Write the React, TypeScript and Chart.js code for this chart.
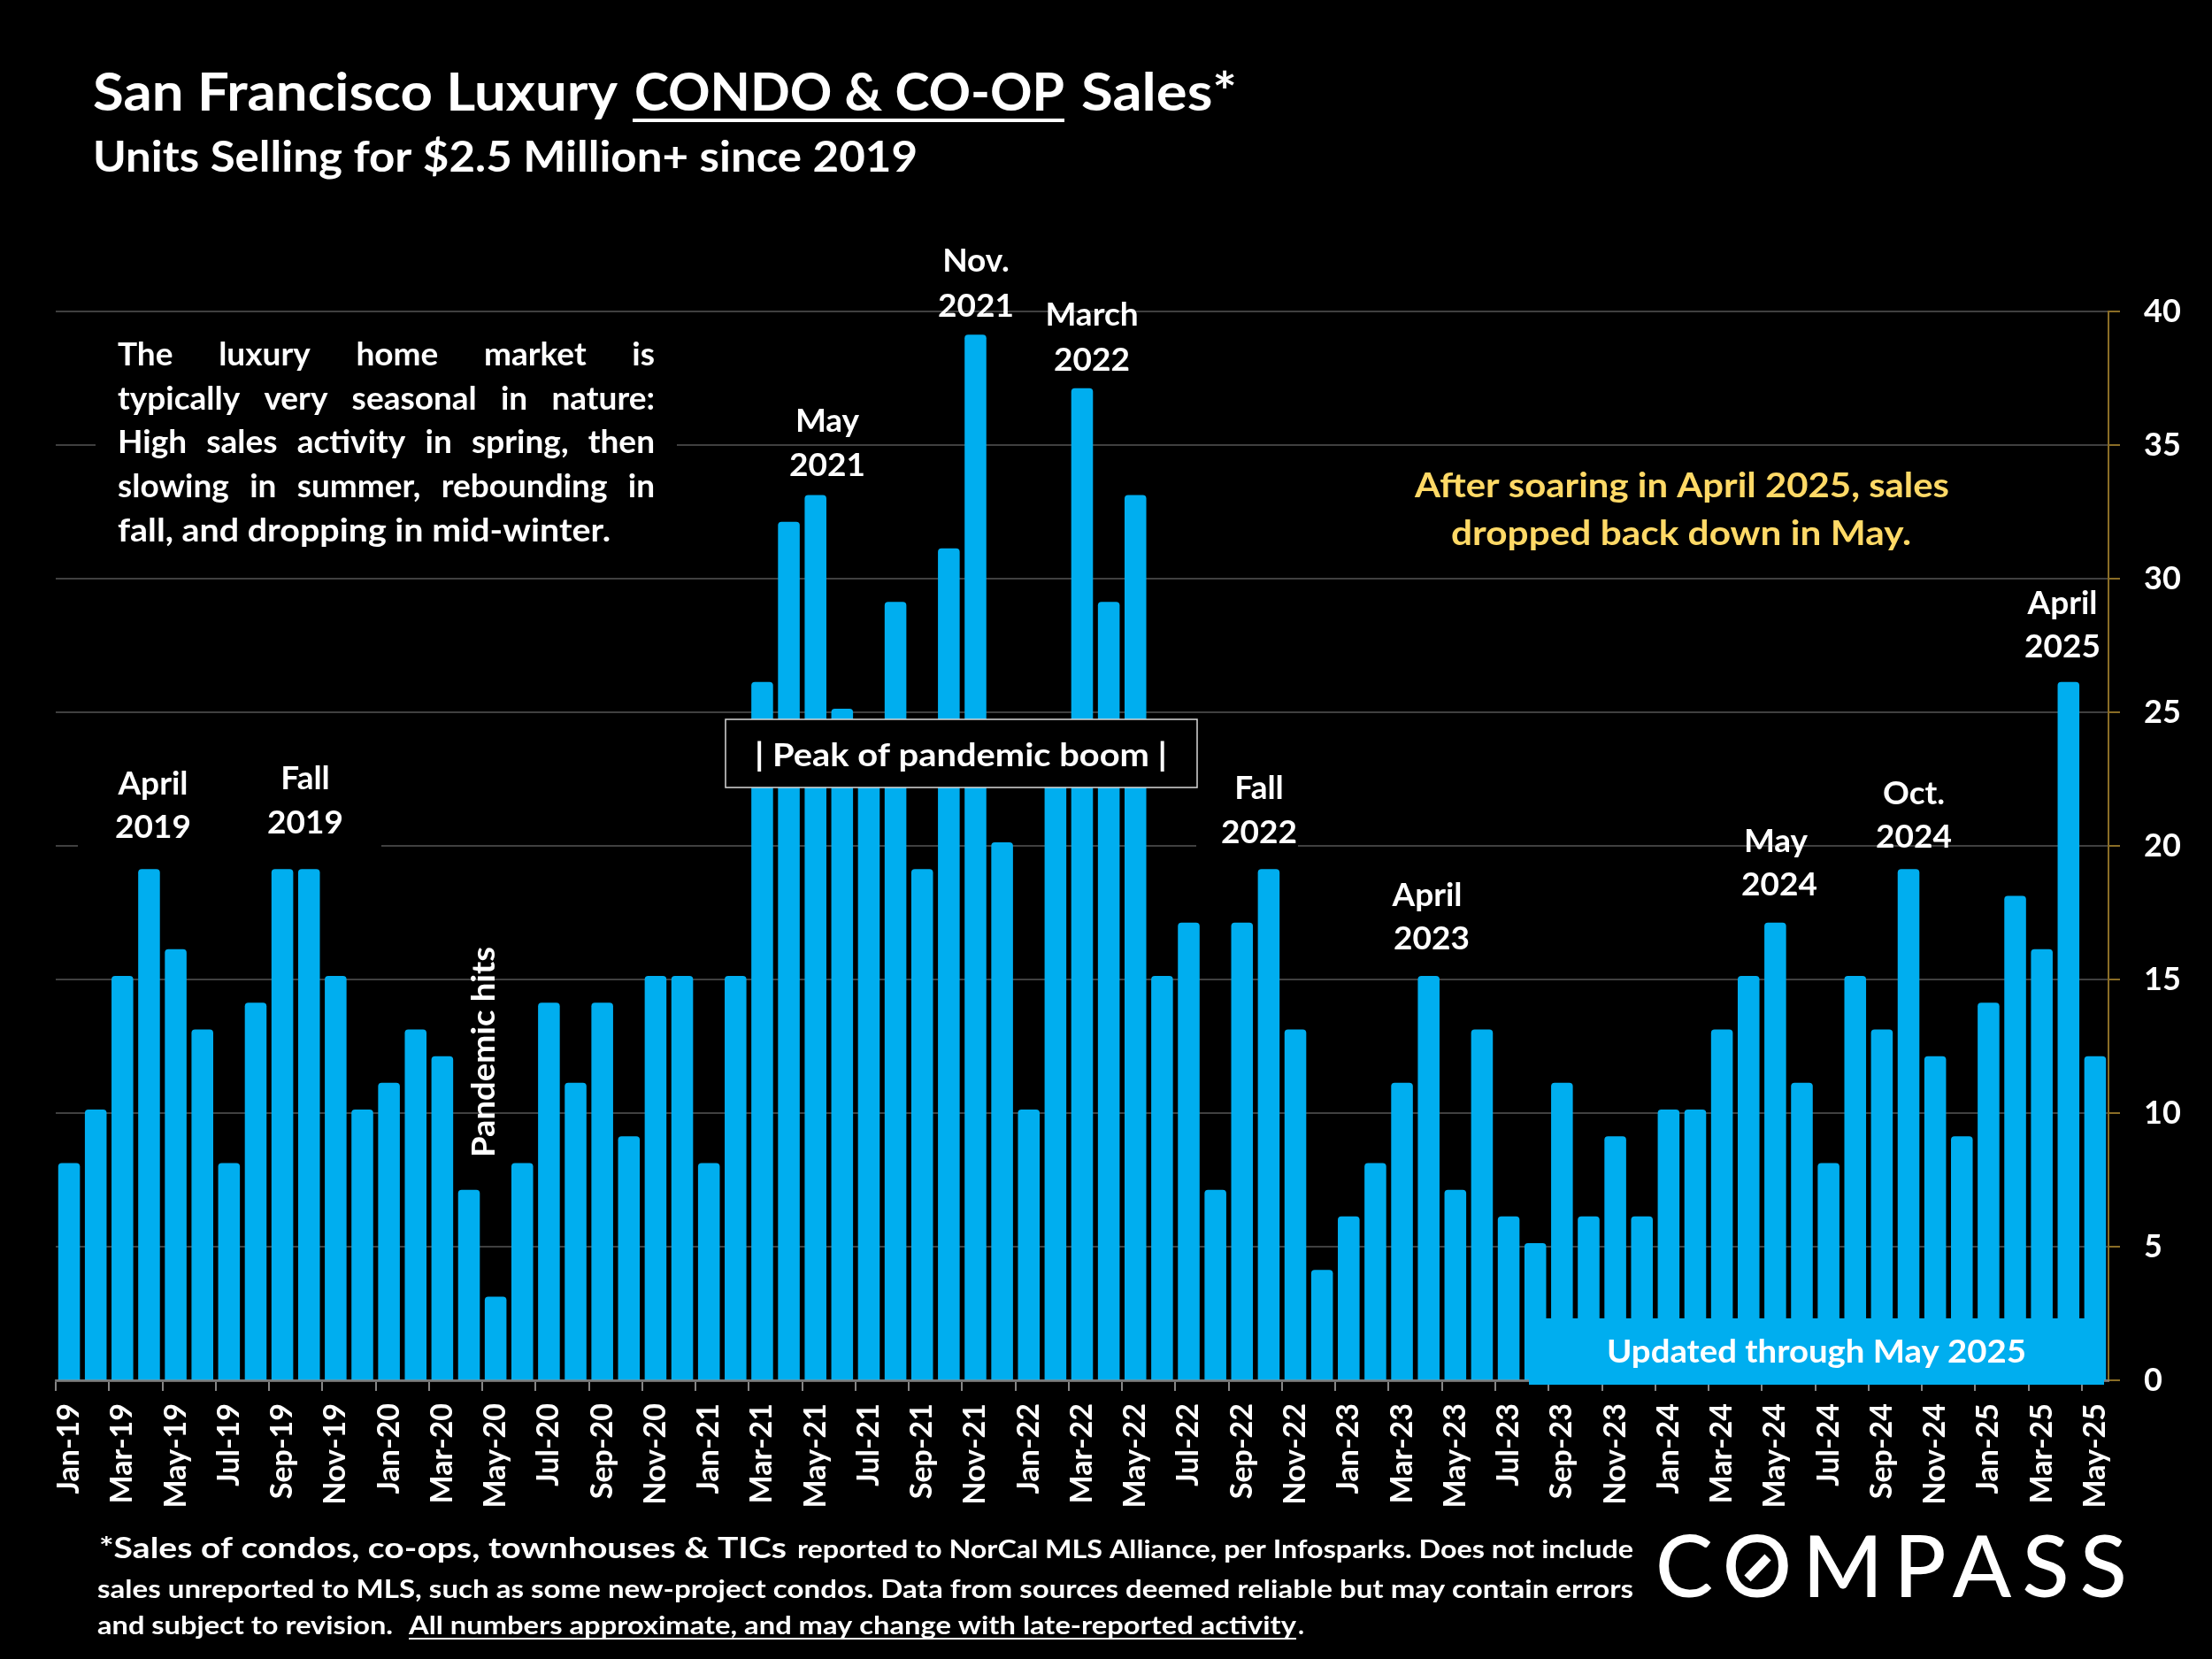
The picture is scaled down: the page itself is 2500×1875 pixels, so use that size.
import React, { useEffect, useRef } from 'react';
import Chart from 'chart.js/auto';

const months = [
  'Jan-19', 'Feb-19', 'Mar-19', 'Apr-19', 'May-19', 'Jun-19', 'Jul-19', 'Aug-19', 'Sep-19', 'Oct-19', 'Nov-19', 'Dec-19',
  'Jan-20', 'Feb-20', 'Mar-20', 'Apr-20', 'May-20', 'Jun-20', 'Jul-20', 'Aug-20', 'Sep-20', 'Oct-20', 'Nov-20', 'Dec-20',
  'Jan-21', 'Feb-21', 'Mar-21', 'Apr-21', 'May-21', 'Jun-21', 'Jul-21', 'Aug-21', 'Sep-21', 'Oct-21', 'Nov-21', 'Dec-21',
  'Jan-22', 'Feb-22', 'Mar-22', 'Apr-22', 'May-22', 'Jun-22', 'Jul-22', 'Aug-22', 'Sep-22', 'Oct-22', 'Nov-22', 'Dec-22',
  'Jan-23', 'Feb-23', 'Mar-23', 'Apr-23', 'May-23', 'Jun-23', 'Jul-23', 'Aug-23', 'Sep-23', 'Oct-23', 'Nov-23', 'Dec-23',
  'Jan-24', 'Feb-24', 'Mar-24', 'Apr-24', 'May-24', 'Jun-24', 'Jul-24', 'Aug-24', 'Sep-24', 'Oct-24', 'Nov-24', 'Dec-24',
  'Jan-25', 'Feb-25', 'Mar-25', 'Apr-25', 'May-25',
];

const unitsSold = [
  8, 10, 15, 19, 16, 13, 8, 14, 19, 19, 15, 10,
  11, 13, 12, 7, 3, 8, 14, 11, 14, 9, 15, 15,
  8, 15, 26, 32, 33, 25, 24, 29, 19, 31, 39, 20,
  10, 23, 37, 29, 33, 15, 17, 7, 17, 19, 13, 4,
  6, 8, 11, 15, 7, 13, 6, 5, 11, 6, 9, 6,
  10, 10, 13, 15, 17, 11, 8, 15, 13, 19, 12, 9,
  14, 18, 16, 26, 12,
];

const introLines = [
  'The luxury home market is',
  'typically very seasonal in nature:',
  'High sales activity in spring, then',
  'slowing in summer, rebounding in',
];
const introLast = 'fall, and dropping in mid-winter.';

const BLUE = '#00AEEF';
const WHITE = '#FFFFFF';
const GOLD = '#FFD966';
const AXIS_GOLD = '#8A6D26';

// the bars stand about 4px proud of the gridlines in the original
const BAR_LIFT = 0.13;

const annotations = {
  id: 'annotations',
  beforeDraw(chart: Chart) {
    const { ctx, width, height } = chart;
    ctx.save();
    ctx.fillStyle = '#000';
    ctx.fillRect(0, 0, width, height);
    ctx.restore();
  },
  afterDraw(chart: Chart) {
    const ctx = chart.ctx;
    ctx.save();
    ctx.textBaseline = 'alphabetic';
    ctx.textAlign = 'left';

    const LABEL = 'bold 37px Lato';

    // squeeze or stretch a run of text so it spans x0..x1 like the Calibri original
    const fit = (text: string, x0: number, x1: number, y: number, font: string, color = WHITE) => {
      ctx.font = font;
      ctx.fillStyle = color;
      const w = ctx.measureText(text).width;
      ctx.save();
      ctx.translate(x0, y);
      ctx.scale((x1 - x0) / w, 1);
      ctx.fillText(text, 0, 0);
      ctx.restore();
    };
    const centered = (text: string, cx: number, y: number) => {
      ctx.font = LABEL;
      ctx.fillStyle = WHITE;
      ctx.textAlign = 'center';
      ctx.fillText(text, cx, y);
      ctx.textAlign = 'left';
    };
    const justified = (text: string, x0: number, x1: number, y: number) => {
      ctx.font = LABEL;
      ctx.fillStyle = WHITE;
      const words = text.split(' ');
      const sizes = words.map((w) => ctx.measureText(w).width);
      const gap = (x1 - x0 - sizes.reduce((a, b) => a + b, 0)) / (words.length - 1);
      let x = x0;
      words.forEach((w, i) => {
        ctx.fillText(w, x, y);
        x += sizes[i] + gap;
      });
    };

    // gridline gaps behind the text blocks
    ctx.fillStyle = '#000';
    ctx.fillRect(108, 495, 657, 12);
    ctx.fillRect(88, 950, 343, 12);
    ctx.fillRect(1352, 950, 115, 12);

    // title
    const T = 'bold 60px Lato';
    fit('San Francisco Luxury', 105, 698, 125, T);
    fit('CONDO & CO-OP', 717, 1203, 125, T);
    fit('Sales*', 1222, 1398, 125, T);
    ctx.fillStyle = WHITE;
    ctx.fillRect(715, 134, 488, 4);
    fit('Units Selling for $2.5 Million+ since 2019', 105, 1037, 194, 'bold 48px Lato');

    // intro block
    introLines.forEach((line, i) => justified(line, 133, 740, 413 + i * 49.7));
    fit(introLast, 133, 690, 612, LABEL);

    // gold note
    fit('After soaring in April 2025, sales', 1599, 2203, 562, 'bold 39px Lato', GOLD);
    fit('dropped back down in May.', 1640, 2160, 616, 'bold 39px Lato', GOLD);

    // month callouts
    centered('April', 173, 898);
    centered('2019', 173, 947);
    centered('Fall', 345, 892);
    centered('2019', 345, 942);
    centered('May', 935, 488);
    centered('2021', 935, 538);
    centered('Nov.', 1103, 307);
    centered('2021', 1103, 358);
    centered('March', 1234, 368);
    centered('2022', 1234, 419);
    centered('Fall', 1423, 903);
    centered('2022', 1423, 953);
    centered('April', 1613, 1024);
    centered('2023', 1618, 1073);
    centered('May', 2007, 963);
    centered('2024', 2011, 1012);
    centered('Oct.', 2163, 909);
    centered('2024', 2163, 958);
    centered('April', 2331, 694);
    centered('2025', 2331, 743);

    // rotated note
    ctx.save();
    ctx.translate(559, 1308);
    ctx.rotate(-Math.PI / 2);
    fit('Pandemic hits', 0, 238, 0, LABEL);
    ctx.restore();

    // peak box
    ctx.fillStyle = '#000';
    ctx.fillRect(820, 813, 533, 77);
    ctx.strokeStyle = '#D9D9D9';
    ctx.lineWidth = 1.5;
    ctx.strokeRect(820, 813, 533, 77);
    fit('| Peak of pandemic boom |', 853, 1319, 866, LABEL);

    // updated banner
    ctx.fillStyle = BLUE;
    ctx.fillRect(1728, 1490, 650, 75);
    fit('Updated through May 2025', 1816, 2290, 1540, LABEL);

    // footnote
    const FB = 'bold 33px Lato';
    const FS = 'bold 29px Lato';
    fit('*Sales of condos, co-ops, townhouses & TICs', 112, 889, 1761, FB);
    fit('reported to NorCal MLS Alliance, per Infosparks. Does not include', 901, 1846, 1761, FS);
    fit('sales unreported to MLS, such as some new-project condos. Data from sources deemed reliable but may contain errors', 110, 1846, 1806, FS);
    fit('and subject to revision.', 110, 444, 1847, FS);
    fit('All numbers approximate, and may change with late-reported activity', 462, 1465, 1847, FS);
    fit('.', 1467, 1474, 1847, FS);
    ctx.fillStyle = WHITE;
    ctx.fillRect(462, 1851, 1003, 2);

    // logo
    ctx.letterSpacing = '12px';
    fit('COMPASS', 1871, 2416, 1805, '500 96px Lato');
    ctx.letterSpacing = '0px';
    ctx.strokeStyle = WHITE;
    ctx.lineWidth = 10;
    ctx.beginPath();
    ctx.moveTo(1975, 1784);
    ctx.lineTo(1998, 1760);
    ctx.stroke();

    ctx.restore();
  },
};

export default function App() {
  const canvasRef = useRef<HTMLCanvasElement | null>(null);

  useEffect(() => {
    if (!canvasRef.current) return;
    const chart = new Chart(canvasRef.current, {
      type: 'bar',
      data: {
        labels: months,
        datasets: [{
          label: 'Units sold',
          data: unitsSold,
          yAxisID: 'bars',
          base: -BAR_LIFT,
          backgroundColor: BLUE,
          borderRadius: 4,
          barPercentage: 0.815,
          categoryPercentage: 1,
        }],
      },
      options: {
        animation: false,
        responsive: false,
        devicePixelRatio: 1,
        layout: { padding: { left: 63, top: 352, right: 0, bottom: 0 } },
        plugins: { legend: { display: false }, title: { display: false }, tooltip: { enabled: false } },
        scales: {
          x: {
            afterFit: (scale: any) => { scale.height = 315; },
            grid: {
              offset: true,
              drawOnChartArea: false,
              tickLength: 12,
              lineWidth: 2,
              tickColor: (c: any) => (c.index % 2 === 0 ? '#868686' : 'transparent'),
            },
            border: { color: 'rgba(140,140,140,0.75)', width: 3, z: 1 },
            ticks: {
              autoSkip: false,
              minRotation: 90,
              maxRotation: 90,
              padding: 14,
              color: WHITE,
              font: { family: 'Lato', weight: 'bold', size: 34 },
              callback: (_v: any, i: number) => (i % 2 === 0 ? months[i] : ''),
            },
          },
          y: {
            position: 'right',
            min: 0,
            max: 40,
            afterFit: (scale: any) => { scale.width = 117; },
            grid: { color: '#404040', lineWidth: 2, tickColor: AXIS_GOLD, tickLength: 13 },
            border: { color: AXIS_GOLD, width: 2 },
            ticks: {
              stepSize: 5,
              padding: 27,
              color: WHITE,
              font: { family: 'Lato', weight: 'bold', size: 36 },
            },
          },
          bars: {
            display: false,
            position: 'right',
            min: -BAR_LIFT,
            max: 40 - BAR_LIFT,
          },
        },
      },
      plugins: [annotations],
    } as any);
    return () => chart.destroy();
  }, []);

  return (
    <div style={{ position: 'absolute', left: 0, top: 0, width: 2500, height: 1875, background: '#000' }}>
      <canvas ref={canvasRef} width={2500} height={1875} style={{ display: 'block' }} />
    </div>
  );
}
